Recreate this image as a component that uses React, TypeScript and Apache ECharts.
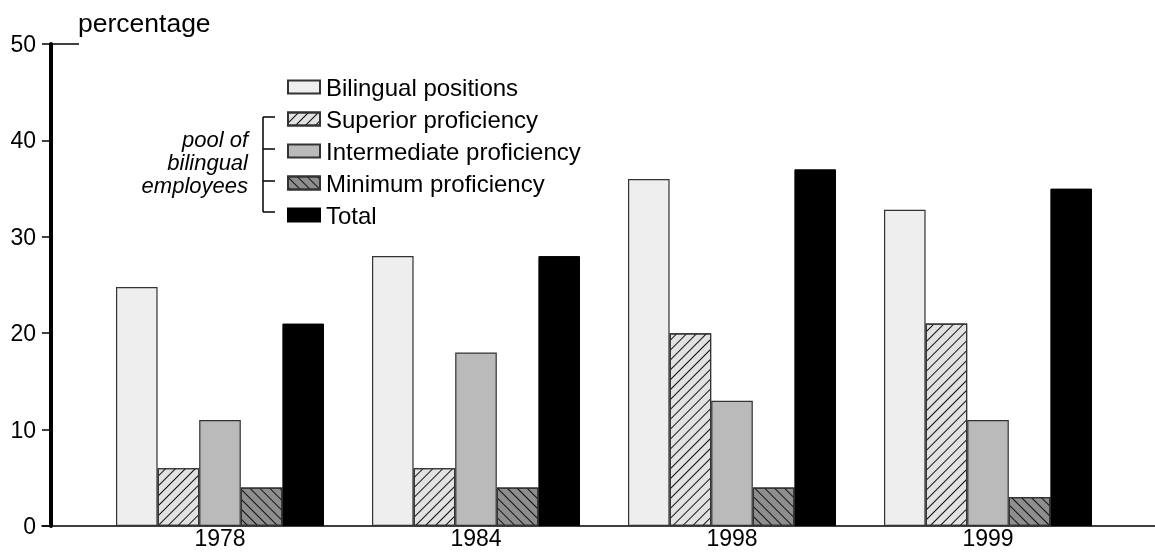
import React, { useEffect, useRef } from "react";
import * as echarts from "echarts";

const years = ["1978", "1984", "1998", "1999"];
const seriesNames = [
  "Bilingual positions",
  "Superior proficiency",
  "Intermediate proficiency",
  "Minimum proficiency",
  "Total",
];
const bilingualPositions = [24.8, 28, 36, 32.8];
const superiorProficiency = [6, 6, 20, 21];
const intermediateProficiency = [11, 18, 13, 11];
const minimumProficiency = [4, 4, 4, 3];
const total = [21, 28, 37, 35];
const yTicks = [0, 10, 20, 30, 40, 50];
const groupLabel = ["pool of", "bilingual", "employees"];

const FONT = "'Liberation Sans', Arial, Helvetica, sans-serif";

export default function App() {
  const ref = useRef<HTMLDivElement>(null);
  useEffect(() => {
    if (!ref.current) return;
    const chart = echarts.init(ref.current, null, { renderer: "svg" });
    const border = { borderColor: "#333", borderWidth: 1.2 };
    const dataSets = [
      bilingualPositions,
      superiorProficiency,
      intermediateProficiency,
      minimumProficiency,
      total,
    ];
    const styles: any[] = [
      { color: "#eeeeee", ...border },
      {
        color: "#e2e2e2",
        ...border,
        decal: {
          symbol: "rect",
          symbolSize: 1,
          color: "#111",
          dashArrayX: [1, 0],
          dashArrayY: [1, 6],
          rotation: -Math.PI / 4,
        },
      },
      { color: "#bababa", ...border },
      {
        color: "#8e8e8e",
        ...border,
        decal: {
          symbol: "rect",
          symbolSize: 1,
          color: "#111",
          dashArrayX: [1, 0],
          dashArrayY: [1, 6],
          rotation: Math.PI / 4,
        },
      },
      { color: "#000000", borderColor: "#000", borderWidth: 1 },
    ];
    const series = seriesNames.map((name, i) => ({
      name,
      type: "bar",
      xAxisIndex: 0,
      yAxisIndex: 0,
      barGap: "0%",
      barCategoryGap: "18.75%",
      itemStyle: styles[i],
      data: dataSets[i],
    }));
    chart.setOption({
      animation: false,
      textStyle: { fontFamily: FONT },
      grid: [
        { left: 92, right: 39, top: 44, bottom: 26 },
        { left: 42, right: 0, top: 44, bottom: 26 },
      ],
      xAxis: [
        {
          type: "category",
          gridIndex: 0,
          data: years,
          axisLine: { show: false },
          axisTick: { show: false },
          axisLabel: { color: "#000", fontSize: 23, fontFamily: FONT, margin: 0 },
        },
        {
          type: "value",
          gridIndex: 1,
          min: 0,
          max: 1,
          axisLine: { show: true, onZero: false, lineStyle: { color: "#000", width: 1.5 } },
          axisTick: { show: false },
          axisLabel: { show: false },
          splitLine: { show: false },
        },
      ],
      yAxis: [
        {
          type: "value",
          gridIndex: 0,
          min: 0,
          max: 50,
          interval: 10,
          offset: 41,
          name: "percentage",
          nameLocation: "end",
          nameGap: 8,
          nameTextStyle: {
            color: "#000",
            fontSize: 26.5,
            fontFamily: FONT,
            align: "left",
            verticalAlign: "bottom",
            padding: [0, 0, 0, 27],
          },
          axisLine: { show: true, lineStyle: { color: "#000", width: 4 } },
          axisTick: { show: true, length: 9, lineStyle: { color: "#000", width: 1.5 } },
          axisLabel: {
            color: "#000",
            fontSize: 23,
            fontFamily: FONT,
            margin: 15,
            formatter: (v: number) => (yTicks.includes(v) ? String(v) : ""),
          },
          splitLine: { show: false },
        },
        {
          type: "value",
          gridIndex: 1,
          min: 0,
          max: 1,
          show: false,
        },
      ],
      legend: {
        orient: "vertical",
        left: 282,
        top: 70,
        icon: "rect",
        itemWidth: 32,
        itemHeight: 13,
        itemGap: 8,
        data: seriesNames,
        textStyle: {
          color: "#000",
          fontSize: 24,
          fontFamily: FONT,
          lineHeight: 22,
          padding: [0, 0, 0, 1],
        },
      },
      series,
    });

    // annotations: bracket and group label, y-axis top tick extension
    const yTop = chart.convertToPixel({ yAxisIndex: 0 }, 50) as number;
    const lineStyle = { stroke: "#000", lineWidth: 1.5 };
    const bx = 263;
    const rows = [117, 149, 181, 212];
    const graphics: any[] = [
      {
        type: "line",
        shape: { x1: 51, y1: yTop, x2: 79, y2: yTop },
        style: lineStyle,
      },
      {
        type: "line",
        shape: { x1: bx, y1: rows[0], x2: bx, y2: rows[rows.length - 1] },
        style: lineStyle,
      },
      ...rows.map((y) => ({
        type: "line",
        shape: { x1: bx, y1: y, x2: bx + 12, y2: y },
        style: lineStyle,
      })),
      {
        type: "text",
        x: 248,
        y: 162,
        style: {
          text: groupLabel.join("\n"),
          fill: "#000",
          font: `italic 22px ${FONT}`,
          lineHeight: 23,
          align: "right",
          verticalAlign: "middle",
        },
      },
    ];
    chart.setOption({ graphic: graphics });
    return () => chart.dispose();
  }, []);
  return (
    <div
      ref={ref}
      style={{ position: "fixed", left: 0, top: 0, width: 1155, height: 552 }}
    />
  );
}
